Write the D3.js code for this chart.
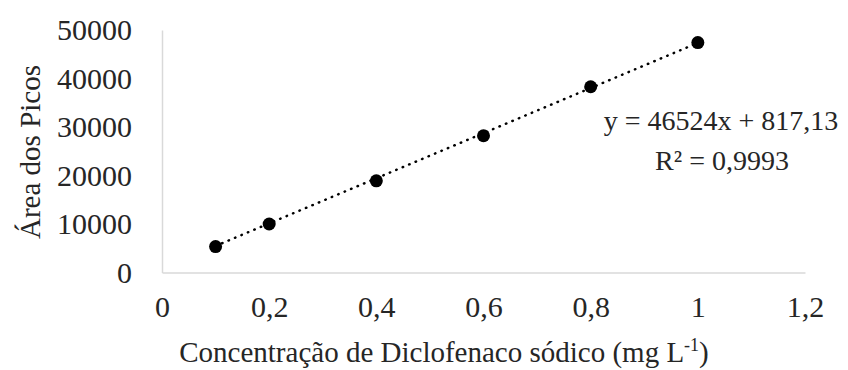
<!DOCTYPE html>
<html>
<head>
<meta charset="utf-8">
<script src="https://cdn.jsdelivr.net/npm/d3@7"></script>
<style>
  body { margin: 0; background: #fff; }
</style>
</head>
<body>
<div id="content"></div>
<script>
const width = 848;
const height = 370;
const serif = "'Liberation Serif', 'Times New Roman', serif";

// data
const conc = [0.1, 0.2, 0.4, 0.6, 0.8, 1.0];
const area = [5350, 10000, 18900, 28200, 38300, 47400];
const xTicks = [0, 0.2, 0.4, 0.6, 0.8, 1, 1.2];
const yTicks = [0, 10000, 20000, 30000, 40000, 50000];
const slope = 46524;
const intercept = 817.13;
const eqLabel = "y = 46524x + 817,13";
const r2Label = "R² = 0,9993";

const margin = {top: 30, right: 43, bottom: 97.5, left: 162};

var svg = d3.select("#content").append("svg")
    .attr("width", width)
    .attr("height", height);

var x = d3.scaleLinear().domain([0, 1.2]).range([margin.left, width - margin.right]);
var y = d3.scaleLinear().domain([0, 50000]).range([height - margin.bottom, margin.top]);

var fmt = d => String(d).replace(".", ",");

// axes (no tick marks, light grey lines)
svg.append("g")
    .attr("transform", `translate(0, ${y(0)})`)
    .call(d3.axisBottom(x).tickValues(xTicks).tickSize(0).tickPadding(23).tickFormat(fmt));
svg.append("g")
    .attr("transform", `translate(${x(0)}, 0)`)
    .call(d3.axisLeft(y).tickValues(yTicks).tickSize(0).tickPadding(30).tickFormat(fmt));

svg.selectAll(".domain").attr("stroke", "#d9d9d9").attr("stroke-width", 1.5);
svg.selectAll(".tick text")
    .style("font-family", serif)
    .style("font-size", "30px")
    .attr("fill", "#262626");

// trend line
svg.append("line")
    .attr("x1", x(d3.min(conc)))
    .attr("y1", y(intercept + slope * d3.min(conc)))
    .attr("x2", x(d3.max(conc)))
    .attr("y2", y(intercept + slope * d3.max(conc)))
    .attr("stroke", "#000")
    .attr("stroke-width", 2.5)
    .attr("stroke-linecap", "round")
    .attr("stroke-dasharray", "0.5,6.5");

// points
svg.selectAll(".pt")
    .data(conc)
    .enter().append("circle")
    .attr("class", "pt")
    .attr("cx", d => x(d))
    .attr("cy", (d, i) => y(area[i]))
    .attr("r", 6.5)
    .attr("fill", "#000");

function label(t, size) {
    return t.style("font-family", serif).style("font-size", size + "px").attr("fill", "#262626");
}

// equation
label(svg.append("text").text(eqLabel), 28)
    .attr("x", 721).attr("y", 130)
    .attr("text-anchor", "middle");
label(svg.append("text").text(r2Label), 28)
    .attr("x", 722).attr("y", 170)
    .attr("text-anchor", "middle");

// axis titles
var xt = label(svg.append("text"), 29)
    .attr("x", 444)
    .attr("y", 362)
    .attr("text-anchor", "middle");
xt.append("tspan").text("Concentração de Diclofenaco sódico (mg L");
xt.append("tspan").text("-1").style("font-size", "18px").attr("dy", -11);
xt.append("tspan").text(")").attr("dy", 11);

label(svg.append("text").text("Área dos Picos"), 29)
    .attr("transform", `translate(40, 152) rotate(-90)`)
    .attr("text-anchor", "middle");
</script>
</body>
</html>
